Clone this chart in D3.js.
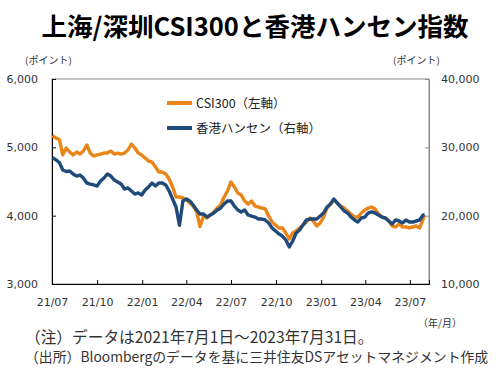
<!DOCTYPE html>
<html>
<head>
<meta charset="utf-8">
<script src="https://cdn.jsdelivr.net/npm/d3@7"></script>
<style>
  body { margin: 0; background: #fff; }
  svg { display: block; font-family: "Noto Sans CJK JP", sans-serif; }
  .axis text { font-family: "DejaVu Sans", sans-serif; font-size: 11px; fill: #333; }
</style>
</head>
<body>
<div id="chart"></div>
<script>
// weekly closes (Fridays) plus the last day of the period
const dates = d3.timeFriday
  .range(new Date(2021, 6, 2), new Date(2023, 6, 29))
  .concat([new Date(2023, 6, 31)]);

const csi300 = [
  5170, 5137, 5115, 4890, 4990, 4932, 4888, 4932, 4902, 4946,
  5034, 4917, 4873, 4888, 4902, 4917, 4917, 4946, 4902, 4917,
  4902, 4917, 4961, 5049, 4990, 4917, 4888, 4844, 4800, 4785,
  4712, 4639, 4639, 4610, 4536, 4420, 4273, 4273, 4259, 4229,
  4185, 4141, 4054, 3840, 3995, 3966, 4010, 4054, 4112, 4156,
  4273, 4361, 4493, 4420, 4332, 4302, 4215, 4170, 4215, 4141,
  4127, 4112, 4098, 3995, 3907, 3863, 3820, 3820, 3746, 3659,
  3746, 3776, 3820, 3863, 3907, 3966, 3922, 3849, 3893, 3980,
  4112, 4170, 4229, 4185, 4141, 4112, 4068, 4024, 3980, 3980,
  4039, 4083, 4112, 4127, 4098, 4024, 3980, 3966, 3922, 3849,
  3834, 3878, 3834, 3834, 3820, 3834, 3849, 3820, 3951, 4010,
];

const hangSeng = [
  28500, 28150, 27780, 26680, 26460, 26540, 26100, 25800, 25950, 25510,
  24780, 24630, 24490, 24340, 25070, 25510, 26100, 25800, 25220, 24930,
  24630, 23900, 24050, 23610, 23170, 23320, 23020, 23760, 24200, 24780,
  24340, 24780, 24780, 24490, 23610, 22440, 21270, 18600, 22150, 22440,
  22150, 21560, 20830, 20240, 20240, 19800, 20100, 20390, 20830, 21120,
  21710, 22150, 22150, 21410, 20830, 20540, 20830, 20100, 19950, 19800,
  19510, 19510, 19370, 18930, 18200, 17760, 17320, 17020, 16440, 15410,
  16290, 17460, 17900, 18630, 19370, 19510, 19510, 19510, 19950, 20390,
  21270, 21710, 22440, 21850, 21270, 20680, 20390, 19800, 19370, 19070,
  19660, 19800, 20390, 20540, 20390, 20100, 19800, 19660, 19220, 18780,
  19370, 19220, 18930, 19370, 19070, 19070, 19220, 19370, 20100, 20100,
];

const xTickLabels = ["21/07", "21/10", "22/01", "22/04", "22/07", "22/10", "23/01", "23/04", "23/07"];
const leftTicks = [3000, 4000, 5000, 6000];
const rightTicks = [10000, 20000, 30000, 40000];

const series = [
  { name: "CSI300（左軸）", values: csi300, axis: "left", color: "#EA8519" },
  { name: "香港ハンセン（右軸）", values: hangSeng, axis: "right", color: "#1F4A7A" },
];

const width = 500, height = 376;
const margin = { top: 79, right: 71, bottom: 92, left: 52 };

const svg = d3.select("#chart").append("svg")
  .attr("width", width)
  .attr("height", height);

const x = d3.scaleTime()
  .domain([new Date(2021, 6, 1), new Date(2023, 7, 9)])
  .range([margin.left, width - margin.right]);
const yLeft = d3.scaleLinear().domain([3000, 6000]).range([height - margin.bottom, margin.top]);
const yRight = d3.scaleLinear().domain([10000, 40000]).range([height - margin.bottom, margin.top]);

const xTickDates = d3.timeMonth.every(3).range(new Date(2021, 6, 1), new Date(2023, 6, 2));

// title
svg.append("text")
  .attr("x", 255)
  .attr("y", 36)
  .attr("text-anchor", "middle")
  .attr("font-size", 25.5)
  .attr("font-weight", 700)
  .attr("fill", "#000")
  .text("上海/深圳CSI300と香港ハンセン指数");

// unit labels
svg.append("text").attr("x", 25).attr("y", 64).attr("font-size", 10).attr("fill", "#333").text("(ポイント)");
svg.append("text").attr("x", 393).attr("y", 64).attr("font-size", 10).attr("fill", "#333").text("(ポイント)");

// plot frame
svg.append("rect")
  .attr("x", margin.left)
  .attr("y", margin.top)
  .attr("width", width - margin.left - margin.right)
  .attr("height", height - margin.top - margin.bottom)
  .attr("fill", "none")
  .attr("stroke", "#8a8a8a");

svg.append("g")
  .attr("class", "axis")
  .attr("transform", `translate(${margin.left},0)`)
  .call(d3.axisLeft(yLeft).tickValues(leftTicks).tickFormat(d3.format(",")).tickSize(-4).tickPadding(14))
  .call((g) => g.selectAll("line, path").attr("stroke", "#000"));

svg.append("g")
  .attr("class", "axis")
  .attr("transform", `translate(${width - margin.right},0)`)
  .call(d3.axisRight(yRight).tickValues(rightTicks).tickFormat(d3.format(",")).tickSize(-4).tickPadding(12))
  .call((g) => g.selectAll("line, path").attr("stroke", "#8a8a8a"));

svg.append("g")
  .attr("class", "axis")
  .attr("transform", `translate(0,${height - margin.bottom})`)
  .call(d3.axisBottom(x).tickValues(xTickDates).tickFormat((d, i) => xTickLabels[i]).tickSize(-4).tickPadding(14))
  .call((g) => g.selectAll("line, path").attr("stroke", "#000"));

// lines (Hang Seng drawn on top)
series.forEach((s) => {
  const y = s.axis === "left" ? yLeft : yRight;
  const line = d3.line()
    .x((d, i) => x(dates[i]))
    .y((d) => y(d));
  svg.append("path")
    .datum(s.values)
    .attr("fill", "none")
    .attr("stroke", s.color)
    .attr("stroke-width", 3.4)
    .attr("stroke-linejoin", "round")
    .attr("d", line);
});

// legend
const legend = svg.append("g").attr("transform", "translate(167,103)");
legend.selectAll("g")
  .data(series)
  .join("g")
  .attr("transform", (d, i) => `translate(0,${i * 25})`)
  .call((g) => g.append("line").attr("x1", 0).attr("x2", 25)
    .attr("stroke", (d) => d.color).attr("stroke-width", 4))
  .call((g) => g.append("text").attr("x", 29).attr("dy", "0.36em")
    .attr("font-size", 12.5).attr("fill", "#222").text((d) => d.name));

// footer
svg.append("text").attr("x", 462).attr("y", 327).attr("text-anchor", "end")
  .attr("font-size", 10).attr("fill", "#333").text("（年/月）");
svg.append("text").attr("x", 25).attr("y", 343)
  .attr("font-size", 15.7).attr("fill", "#333").text("（注）データは2021年7月1日～2023年7月31日。");
svg.append("text").attr("x", 25).attr("y", 362)
  .attr("font-size", 13.85).attr("fill", "#333").text("（出所）Bloombergのデータを基に三井住友DSアセットマネジメント作成");
</script>
</body>
</html>
